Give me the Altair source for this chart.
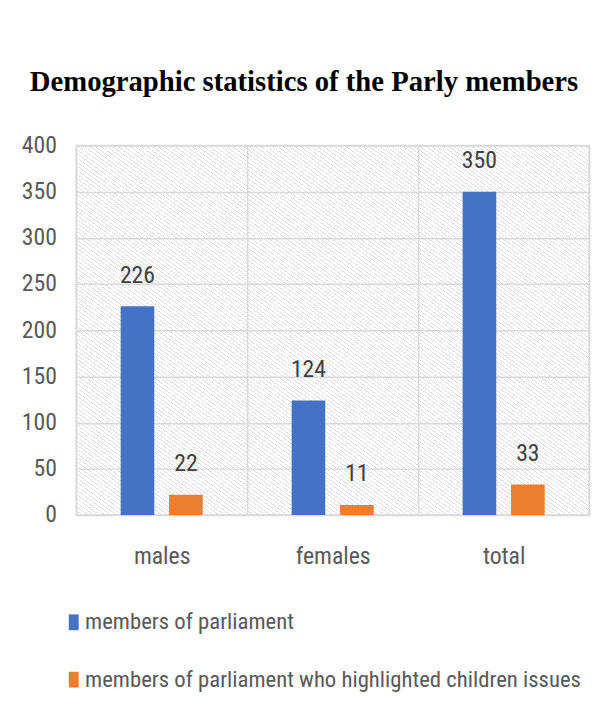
import altair as alt
import pandas as pd

categories = ["males", "females", "total"]
series = ["members of parliament", "members of parliament who highlighted children issues"]
mp_values = [226, 124, 350]
kids_values = [22, 11, 33]
y_ticks = [0, 50, 100, 150, 200, 250, 300, 350, 400]
colors = ["#4472C4", "#ED7D31"]

rows = []
for i, c in enumerate(categories):
    rows.append({"category": c, "series": series[0], "value": mp_values[i]})
    rows.append({"category": c, "series": series[1], "value": kids_values[i]})
df = pd.DataFrame(rows)

W, H = 519, 374
FONT = "Liberation Sans Narrow, Roboto Condensed, Roboto, sans-serif"
GRID = "#d9d9d9"

# hatch pattern background (decoration) via a striped gradient
stops = []
N = 180
for k in range(N):
    a = k / N
    b = (k + 0.22) / N
    c = (k + 1) / N
    stops += [
        alt.GradientStop(color="#dddddd", offset=a),
        alt.GradientStop(color="#dddddd", offset=b),
        alt.GradientStop(color="rgba(255,255,255,0)", offset=b),
        alt.GradientStop(color="rgba(255,255,255,0)", offset=c),
    ]
hatch = alt.Chart(pd.DataFrame({"a": [0]})).mark_rect(
    fill=alt.Gradient(gradient="linear", stops=stops, x1=0, y1=1, x2=1, y2=0)
).encode(x=alt.value(0), x2=alt.value(W), y=alt.value(0), y2=alt.value(H))

x_enc = alt.X(
    "category:N", sort=categories,
    scale=alt.Scale(paddingInner=0, paddingOuter=0),
    axis=alt.Axis(title=None, labelAngle=0, ticks=False, domain=False, grid=True,
                  tickBand="extent", gridColor=GRID, gridWidth=1.5,
                  labelPadding=30, labelFontSize=24, labelColor="#595959", labelFont=FONT),
)
xoff = alt.XOffset("series:N", sort=series,
                   scale=alt.Scale(paddingInner=0.306, paddingOuter=0.918))
y_enc = alt.Y(
    "value:Q", scale=alt.Scale(domain=[0, 400], nice=False),
    axis=alt.Axis(title=None, values=y_ticks, ticks=False, domain=False, grid=True,
                  gridColor=GRID, gridWidth=1.5, labelPadding=20, labelFontSize=24,
                  labelColor="#595959", labelFont=FONT),
)
color = alt.Color(
    "series:N", sort=series, scale=alt.Scale(domain=series, range=colors),
    legend=alt.Legend(title=None, orient="none", legendX=-14, legendY=471,
                      direction="vertical", symbolType="M-0.625,-1L0.625,-1L0.625,1L-0.625,1Z",
                      symbolSize=256, symbolStrokeWidth=0, labelFontSize=23, labelFont=FONT,
                      labelColor="#595959", rowPadding=34, labelOffset=0, labelLimit=700),
)

bars = alt.Chart(df).mark_bar().encode(x=x_enc, xOffset=xoff, y=y_enc, color=color)
labels = alt.Chart(df).mark_text(baseline="alphabetic", dy=-24, fontSize=24, font=FONT,
                                 color="#404040").encode(
    x=alt.X("category:N", sort=categories), xOffset=alt.XOffset("series:N", sort=series),
    y="value:Q", text="value:Q")

chart = alt.layer(hatch, bars, labels).properties(
    width=W, height=H,
    title=alt.TitleParams(text="Demographic statistics of the Parly members",
                          font="Liberation Serif", fontSize=29, fontWeight="bold",
                          color="#000000", anchor="middle", dx=-29, offset=14,
                          baseline="alphabetic"),
    autosize=alt.AutoSizeParams(type="none"),
    padding={"left": 69, "top": 135, "right": 12, "bottom": 180},
).configure_view(stroke=GRID, strokeWidth=1.5)

chart.save("out.html", embed_options={"renderer": "svg", "actions": False})
